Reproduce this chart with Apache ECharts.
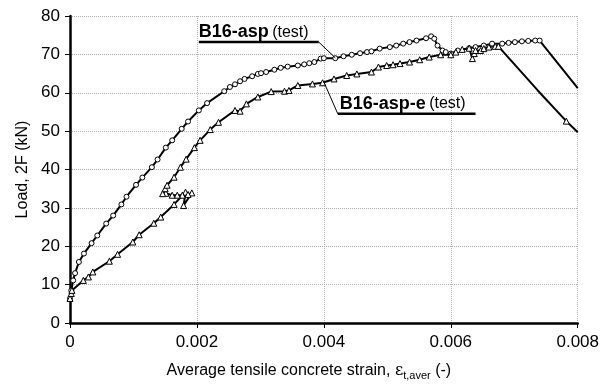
<!DOCTYPE html>
<html>
<head>
<meta charset="utf-8">
<script src="https://cdn.jsdelivr.net/npm/echarts@6/dist/echarts.min.js"></script>
<style>
  html, body { margin: 0; padding: 0; background: #fff; }
  #chart { width: 602px; height: 386px; }
</style>
</head>
<body>
<div id="chart"></div>
<script>
// Load vs. average tensile strain, specimens B16-asp and B16-asp-e (test)
var xTicks = [0, 0.002, 0.004, 0.006, 0.008];
var yTicks = [0, 10, 20, 30, 40, 50, 60, 70, 80];

// B16-asp (circles)
var aspStrain = [0, 0.00002, 0.00005, 0.00008, 0.00014, 0.00022, 0.00034, 0.00043, 0.00057, 0.00068,
  0.00081, 0.00089, 0.00104, 0.00114, 0.00129, 0.00138, 0.00151, 0.00161, 0.00176, 0.00186,
  0.00203, 0.00216, 0.00243, 0.00252, 0.0026, 0.00268, 0.00275, 0.00287, 0.00296, 0.00301,
  0.00309, 0.00322, 0.00332, 0.00343, 0.00359, 0.00369, 0.00377, 0.00385, 0.00395, 0.004,
  0.00418, 0.00431, 0.00444, 0.00457, 0.00468, 0.00475, 0.00488, 0.00504, 0.00514, 0.00525,
  0.00535, 0.00546, 0.00561, 0.00569, 0.00574, 0.00579, 0.00587, 0.00592, 0.006, 0.00611,
  0.00629, 0.00639, 0.00652, 0.00665, 0.00681, 0.00691, 0.00701, 0.00712, 0.00722, 0.00733, 0.0074];
var aspLoad = [6.4, 8.5, 11.1, 13.0, 15.9, 18.1, 20.8, 22.8, 25.9, 28.0,
  30.9, 32.9, 36.0, 37.9, 40.6, 42.6, 45.7, 47.6, 50.6, 52.5,
  55.4, 57.3, 60.4, 61.5, 62.2, 63.0, 63.6, 64.3, 64.9, 65.1,
  65.4, 66.0, 66.5, 66.8, 67.1, 67.4, 67.7, 68.0, 68.9, 69.0,
  69.0, 69.5, 69.9, 70.3, 70.6, 70.8, 71.5, 71.9, 72.3, 72.8,
  73.2, 73.6, 74.2, 74.7, 74.1, 72.3, 71.0, 70.6, 70.2, 71.0,
  71.6, 71.9, 72.3, 72.8, 72.8, 73.0, 73.2, 73.4, 73.5, 73.6, 73.6];
// post-peak branch, drawn without markers
var aspTailStrain = [0.008];
var aspTailLoad = [61.2];

// B16-asp-e (triangles)
var aspEStrain = [0, 0.00002, 0.00003, 0.00021, 0.00029, 0.00036, 0.00062, 0.00075, 0.00099, 0.00109,
  0.00132, 0.00143, 0.00164, 0.00182, 0.00179, 0.00192, 0.00186, 0.00177, 0.00169, 0.00161,
  0.00151, 0.00146, 0.0015, 0.00153, 0.00164, 0.00174, 0.00183, 0.00196, 0.00205, 0.00221,
  0.00234, 0.0026, 0.00268, 0.00278, 0.00296, 0.00317, 0.00338, 0.00345, 0.00359, 0.00382,
  0.00398, 0.00416, 0.00436, 0.00452, 0.00475, 0.00486, 0.00499, 0.00509, 0.0052, 0.00535,
  0.00551, 0.00566, 0.00584, 0.006, 0.00608, 0.00618, 0.00629, 0.00634, 0.00637, 0.00639,
  0.00647, 0.00652, 0.0066, 0.0067, 0.00675];
var aspELoad = [6.4, 7.7, 8.5, 11.1, 12.0, 13.3, 16.1, 17.9, 21.1, 23.0,
  26.0, 27.6, 30.9, 34.1, 30.6, 33.9, 33.5, 33.3, 33.3, 33.3,
  33.8, 33.7, 35.0, 35.9, 38.0, 40.6, 42.7, 45.7, 47.6, 50.4,
  52.3, 55.4, 55.2, 57.1, 58.9, 60.3, 60.4, 60.6, 61.9, 62.3,
  62.6, 63.6, 64.5, 64.9, 65.4, 66.7, 67.1, 67.3, 67.6, 68.0,
  68.6, 69.3, 69.9, 69.9, 70.6, 71.3, 71.6, 68.9, 70.2, 71.0,
  71.0, 71.5, 71.9, 72.1, 72.1];
// post-peak branch; only the middle reading carries a marker
var aspETailStrain = [0.00677, 0.00737, 0.00782, 0.008];
var aspETailLoad = [72.3, 60.6, 52.6, 49.7];
var aspETailMarked = [false, false, true, false];

// label leader lines (underline + pointer), in data units
var aspLabelStrain = [0.00203, 0.00392, 0.00418];
var aspLabelLoad = [73.2, 73.2, 69.1];
var aspELabelStrain = [0.004, 0.00422, 0.00639];
var aspELabelLoad = [62.8, 54.5, 54.5];

function pairs(xs, ys) { return xs.map(function (x, i) { return [x, ys[i]]; }); }

var FONT = 'Liberation Sans';
var aspData = pairs(aspStrain, aspLoad).concat(
  pairs(aspTailStrain, aspTailLoad).map(function (p) { return { value: p, symbol: 'none' }; }));
var aspEData = pairs(aspEStrain, aspELoad).concat(
  pairs(aspETailStrain, aspETailLoad).map(function (p, i) {
    return aspETailMarked[i] ? { value: p } : { value: p, symbol: 'none' };
  }));

var chart = echarts.init(document.getElementById('chart'), null, { renderer: 'canvas' });

function leader(xs, ys, w) {
  var d = pairs(xs, ys);
  return [
    { type: 'line', data: [d[0], d[1]], symbol: 'none', silent: true, z: 4,
      lineStyle: { color: '#000', width: w[0] } },
    { type: 'line', data: [d[1], d[2]], symbol: 'none', silent: true, z: 4,
      lineStyle: { color: '#000', width: w[1] } }
  ];
}

var option = {
  animation: false,
  grid: { left: 70, right: 19, top: 16, bottom: 63 },
  xAxis: {
    type: 'value', min: xTicks[0], max: xTicks[xTicks.length - 1], interval: 0.002,
    name: 'Average tensile concrete strain, {e|ε}{s|t,aver} (-)',
    nameLocation: 'middle', nameGap: 38,
    nameTextStyle: {
      fontFamily: FONT, fontSize: 16, color: '#000', padding: [0, 30, 0, 0],
      rich: {
        e: { fontFamily: 'DejaVu Serif', fontSize: 16, color: '#000' },
        s: { fontFamily: FONT, fontSize: 11, color: '#000', verticalAlign: 'bottom', padding: [9, 0, 0, 0] }
      }
    },
    axisLine: { onZero: false, lineStyle: { color: '#000', width: 2.5 } },
    axisTick: { show: true, length: 5, lineStyle: { color: '#000', width: 1 } },
    axisLabel: { fontFamily: FONT, fontSize: 17, color: '#000', margin: 11,
      formatter: function (v) { return v === 0 ? '0' : v.toFixed(3); } },
    splitLine: { show: true, lineStyle: { color: '#b0b0b0', type: 'dotted', width: 1 } }
  },
  yAxis: {
    type: 'value', min: yTicks[0], max: yTicks[yTicks.length - 1], interval: 10,
    name: 'Load, 2F (kN)', nameLocation: 'middle', nameGap: 38, nameRotate: 90,
    nameTextStyle: { fontFamily: FONT, fontSize: 16, color: '#000' },
    axisLine: { show: true, onZero: false, lineStyle: { color: '#000', width: 2.5 } },
    axisTick: { show: true, length: 5, lineStyle: { color: '#000', width: 1 } },
    axisLabel: { fontFamily: FONT, fontSize: 17, color: '#000', margin: 10 },
    splitLine: { show: true, lineStyle: { color: '#b0b0b0', type: 'dotted', width: 1 } }
  },
  series: [
    { name: 'B16-asp', type: 'line', data: aspData, symbol: 'circle', symbolSize: 5,
      lineStyle: { color: '#000', width: 2 },
      itemStyle: { color: '#fff', borderColor: '#000', borderWidth: 1 }, z: 3 },
    { name: 'B16-asp-e', type: 'line', data: aspEData, symbol: 'triangle', symbolSize: 6,
      lineStyle: { color: '#000', width: 2 },
      itemStyle: { color: '#fff', borderColor: '#000', borderWidth: 1 }, z: 3 }
  ].concat(leader(aspLabelStrain, aspLabelLoad, [2.5, 1]))
   .concat(leader(aspELabelStrain, aspELabelLoad, [1, 2.5]))
};
chart.setOption(option);

// series labels anchored to the start of each underline
var p1 = chart.convertToPixel({ gridIndex: 0 }, [aspLabelStrain[0], aspLabelLoad[0]]);
var p2 = chart.convertToPixel({ gridIndex: 0 }, [aspELabelStrain[1], aspELabelLoad[1]]);
var rich = {
  b: { fontFamily: FONT, fontSize: 18, fontWeight: 'bold', fill: '#000' },
  n: { fontFamily: FONT, fontSize: 16, fill: '#000' }
};
chart.setOption({
  graphic: [
    { type: 'text', x: p1[0], y: p1[1] - 1, z: 10,
      style: { text: '{b|B16-asp} {n|(test)}', rich: rich, verticalAlign: 'bottom', align: 'left' } },
    { type: 'text', x: p2[0] + 2, y: p2[1] - 1, z: 10,
      style: { text: '{b|B16-asp-e} {n|(test)}', rich: rich, verticalAlign: 'bottom', align: 'left' } }
  ]
});
</script>
</body>
</html>
